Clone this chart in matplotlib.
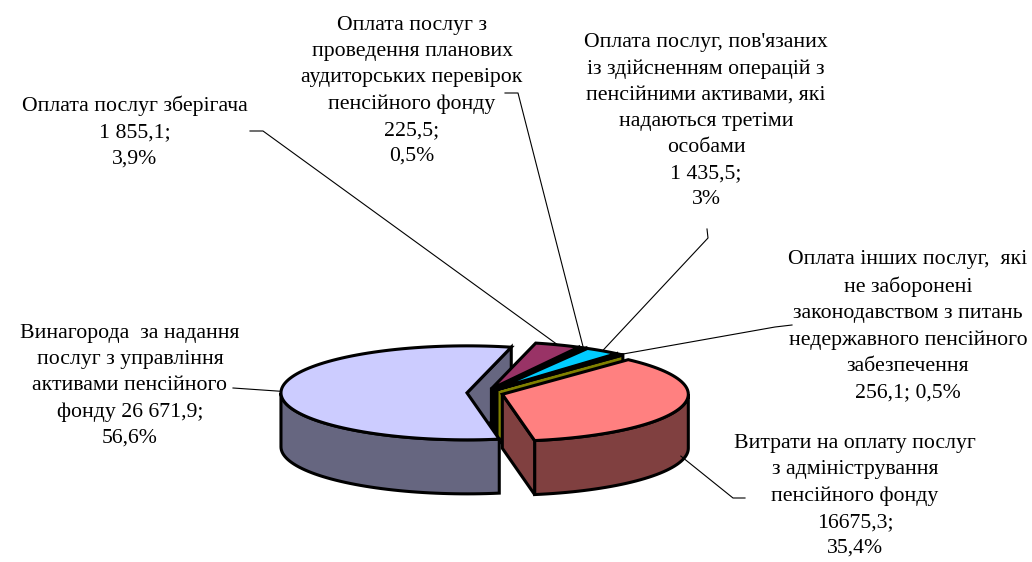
import numpy as np
import matplotlib.pyplot as plt
from matplotlib.patches import Polygon

# slices, clockwise from the pie's first angle
names = ["Винагорода  за надання\nпослуг з управління\nактивами пенсійного\nфонду",
         "Оплата послуг зберігача",
         "Оплата послуг з\nпроведення планових\nаудиторських перевірок\nпенсійного фонду",
         "Оплата послуг, пов'язаних\nіз здійсненням операцій з\nпенсійними активами, які\nнадаються третіми\nособами",
         "Оплата інших послуг,  які\nне заборонені\nзаконодавством з питань\nнедержавного пенсійного\nзабезпечення",
         "Витрати на оплату послуг\nз адміністрування\nпенсійного фонду"]
values = [26671.9, 1855.1, 225.5, 1435.5, 256.1, 16675.3]
value_txt = ["26 671,9", "1 855,1", "225,5", "1 435,5", "256,1", "16675,3"]
pct_txt = ["56,6%", "3,9%", "0,5%", "3%", "0,5%", "35,4%"]
sep1 = [" ", "\n", "\n", "\n", "\n", "\n"]
sep2 = ["\n", "\n", "\n", "\n", " ", "\n"]

top_colors = ["#CCCCFF", "#993366", "#FFFFCC", "#00CCFF", "#8C8C00", "#FF8080"]
side_colors = ["#666680", "#4C1933", "#808066", "#006680", "#808000", "#804040"]

# label block centres and leader anchor points (pixels)
label_pos = [(135, 132), (412, 91), (706, 121), (908, 326), (855, 496)]
label_pos = [(130, 386)] + label_pos
leader_pts = [[(233, 388)], [(250, 131), (263, 131)], [(505, 93), (518, 93)],
              [(707, 229), (708, 238)], [(792, 325), (775, 327)], [(745, 498), (733, 498)]]
leader_z = [0, 0, 0, 0, 0, 0.9]

cx, cy = 485, 393
a, b, h = 186, 47, 54
start = 170.0
expl = 0.097

fig = plt.figure(figsize=(10.32, 5.62), dpi=100)
ax = fig.add_axes([0, 0, 1, 1])
ax.set_xlim(0, 1032)
ax.set_ylim(562, 0)
ax.axis('off')


def pt(th, r, z, off):
    t = np.radians(th)
    return (cx + off[0] + r * a * np.sin(t), cy + off[1] - r * b * np.cos(t) + z)


def arc(t1, t2, z, off):
    n = max(2, int(abs(t2 - t1) / 2) + 2)
    return [pt(t, 1, z, off) for t in np.linspace(t1, t2, n)]


total = sum(values)
edges = start + 360 * np.concatenate([[0], np.cumsum(values)]) / total

sides = []
tops = []
offs = []
for i in range(len(values)):
    t1, t2 = edges[i], edges[i + 1]
    mid = (t1 + t2) / 2
    m = np.radians(mid)
    off = (expl * a * np.sin(m), -expl * b * np.cos(m))
    offs.append((off, mid))
    tops.append((Polygon([pt(0, 0, 0, off)] + arc(t1, t2, 0, off), closed=True), top_colors[i]))
    # outer wall, front half only
    for k in range(3):
        lo, hi = max(t1, 90 + 360 * k), min(t2, 270 + 360 * k)
        if hi > lo:
            poly = arc(lo, hi, 0, off) + arc(hi, lo, h, off)
            key = -np.cos(np.radians((lo + hi) / 2))
            sides.append((key, poly, side_colors[i]))
    # radial faces
    if np.sin(np.radians(t1)) < 0:
        poly = [pt(0, 0, 0, off), pt(t1, 1, 0, off), pt(t1, 1, h, off), pt(0, 0, h, off)]
        sides.append((-np.cos(np.radians(t1)), poly, side_colors[i]))
    if np.sin(np.radians(t2)) > 0:
        poly = [pt(0, 0, 0, off), pt(t2, 1, 0, off), pt(t2, 1, h, off), pt(0, 0, h, off)]
        sides.append((-np.cos(np.radians(t2)), poly, side_colors[i]))

for key, poly, col in sorted(sides, key=lambda s: s[0]):
    ax.add_patch(Polygon(poly, closed=True, facecolor=col, edgecolor='black', lw=2.2, joinstyle='miter'))
for poly, col in tops:
    poly.set_facecolor(col)
    poly.set_edgecolor('black')
    poly.set_linewidth(2.2)
    ax.add_patch(poly)

for i in range(len(values)):
    txt = names[i] + sep1[i] + value_txt[i] + ";" + sep2[i] + pct_txt[i]
    ax.text(label_pos[i][0], label_pos[i][1], txt, ha='center', va='center',
            multialignment='center', fontsize=15.7, family='Liberation Serif',
            linespacing=1.5)
    off, mid = offs[i]
    end = pt(mid, 1, leader_z[i] * h, off)
    pts = leader_pts[i] + [end]
    ax.plot([p[0] for p in pts], [p[1] for p in pts], color='black', lw=0.8)

fig.savefig('out.png', dpi=100)
